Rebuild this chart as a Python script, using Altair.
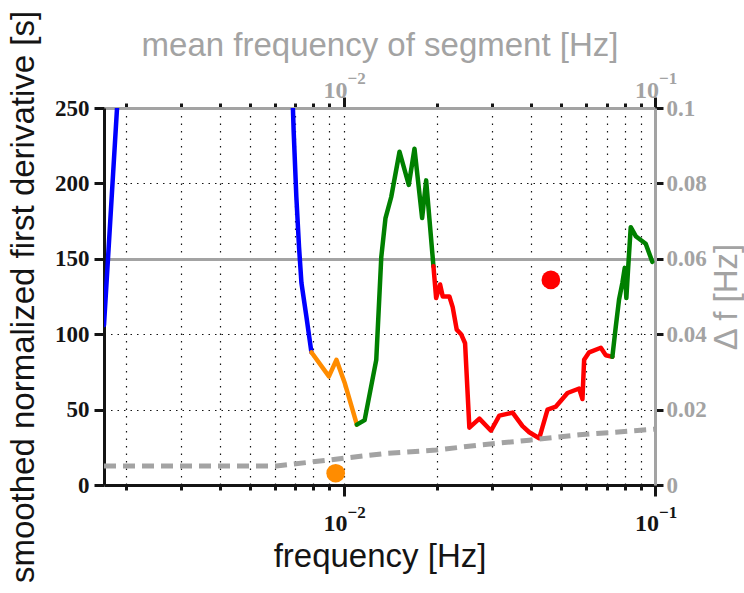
import altair as alt
import pandas as pd

# ---- smoothed normalized first derivative [s] vs frequency [Hz], one array pair per coloured run
blue_a_f = [0.00170, 0.00191]
blue_a_v = [106, 280]
blue_b_f = [0.00680, 0.00691, 0.00705, 0.00719, 0.00732, 0.00759, 0.00788]
blue_b_v = [280, 235, 191, 158, 134, 112, 88]
orange_f = [0.00788, 0.00897, 0.00948, 0.01007, 0.01103]
orange_v = [88, 72, 83, 68, 40]
green_a_f = [0.01103, 0.01168, 0.01273, 0.01321, 0.01363, 0.01422, 0.01512,
             0.01619, 0.01689, 0.01787, 0.01841, 0.01943]
green_a_v = [40, 43, 83, 151, 177, 191, 221, 199, 223, 177, 202, 145]
red_f = [0.01943, 0.01982, 0.02041, 0.02081, 0.02186, 0.02240, 0.02308, 0.02384,
         0.02455, 0.02534, 0.02729, 0.02974, 0.03162, 0.03489, 0.03755, 0.03946,
         0.04248, 0.04517, 0.04806, 0.05236, 0.05707, 0.05848, 0.05921, 0.06145,
         0.06699, 0.06950, 0.07296]
red_v = [145, 124, 133, 125, 125, 118, 103, 100, 94, 38, 44, 36, 46, 48, 39, 35,
         31, 50, 52, 61, 64, 57, 83, 88, 91, 86, 85]
green_b_f = [0.07296, 0.07482, 0.07666, 0.07856, 0.07996, 0.08091, 0.08194,
             0.08358, 0.08672, 0.09337, 0.09802]
green_b_v = [85, 105, 123, 134, 144, 124, 143, 171, 165, 160, 148]

# ---- segment width Δf [Hz] vs mean frequency of segment [Hz]
seg_f = [0.0017, 0.00609, 0.00895, 0.01371, 0.01982, 0.02729, 0.03946, 0.05707, 0.1]
seg_df = [0.00504, 0.00504, 0.00663, 0.0084, 0.00928, 0.0106, 0.0119, 0.0133, 0.0148]

# ---- highlighted points
dot_f = [0.00943, 0.0463]
dot_v = [7.8, 136]
dot_c = ["orange", "red"]

# ---- decade labels
decade_f = [0.01, 0.1]
decade_base = ["10", "10"]
decade_exp = ["\u22122", "\u22121"]

x_ticks = [0.002, 0.003, 0.004, 0.005, 0.006, 0.007, 0.008, 0.009, 0.01,
           0.02, 0.03, 0.04, 0.05, 0.06, 0.07, 0.08, 0.09, 0.1]
left_ticks = [0, 50, 100, 150, 200, 250]
right_ticks = [0, 0.02, 0.04, 0.06, 0.08, 0.1]

runs = [("blue", blue_a_f, blue_a_v), ("blue", blue_b_f, blue_b_v),
        ("orange", orange_f, orange_v), ("green", green_a_f, green_a_v),
        ("red", red_f, red_v), ("green", green_b_f, green_b_v)]
rows = []
for k, (c, fs, vs) in enumerate(runs):
    for i, (f, v) in enumerate(zip(fs, vs)):
        rows.append({"f": f, "v": v, "run": k, "c": c, "i": i})
curve = pd.DataFrame(rows)
segments = pd.DataFrame({"f": seg_f, "d": seg_df})
dots = pd.DataFrame({"f": dot_f, "v": dot_v, "c": dot_c})
decades = pd.DataFrame({"f": decade_f, "base": decade_base, "exp": decade_exp})

GRAY = "#a3a3a3"
INK = "#141414"
SERIF = "Liberation Serif"
SANS = "Liberation Sans"
W, H = 551, 377
MAJOR = "datum.value == 0.01 || datum.value == 0.1"

colour = alt.Scale(domain=["blue", "orange", "green", "red"],
                   range=["#0000ff", "#ff8c00", "#008000", "#ff0000"])

bottom_axis = alt.Axis(
    orient="bottom", values=x_ticks, labels=False,
    domainColor=INK, domainWidth=3,
    tickColor=INK, tickWidth=3,
    tickSize={"condition": {"test": MAJOR, "value": 11}, "value": 5},
    grid=True, gridColor=INK, gridWidth=1.2, gridDash=[1.5, 6],
    title="frequency [Hz]", titleFont=SANS, titleFontSize=33,
    titleFontWeight="normal", titleColor=INK,
    titleX=W / 2, titleY=81, titleBaseline="alphabetic", titleAlign="center")

top_axis = alt.Axis(
    orient="top", values=x_ticks, labels=False,
    domainColor=GRAY, domainWidth=3,
    tickColor=INK, tickWidth=3,
    tickSize={"condition": {"test": MAJOR, "value": 11}, "value": 5},
    grid=False,
    title="mean frequency of segment [Hz]", titleFont=SANS, titleFontSize=33,
    titleFontWeight="normal", titleColor=GRAY,
    titleX=W / 2, titleY=-53, titleBaseline="alphabetic", titleAlign="center")

left_axis = alt.Axis(
    orient="left", values=left_ticks, format="d",
    labelFont=SERIF, labelFontWeight="bold", labelFontSize=23, labelColor=INK,
    labelPadding=5,
    domainColor=INK, domainWidth=3,
    tickColor=INK, tickWidth=3, tickSize=10,
    grid=True,
    gridColor={"condition": {"test": "datum.value == 150", "value": GRAY}, "value": INK},
    gridWidth={"condition": {"test": "datum.value == 150", "value": 3}, "value": 1.2},
    gridDash={"condition": {"test": "datum.value == 150", "value": []}, "value": [1.5, 5]},
    gridOpacity={"condition": {"test": "datum.value == 0 || datum.value == 250", "value": 0}, "value": 1},
    title="smoothed normalized first derivative [s]", titleFont=SANS,
    titleFontSize=33, titleFontWeight="normal", titleColor=INK,
    titleAngle=270, titleX=-71, titleY=H / 2, titleBaseline="alphabetic",
    titleAlign="center")

right_axis = alt.Axis(
    orient="right", values=right_ticks, format=".2~f",
    labelFont=SERIF, labelFontWeight="bold", labelFontSize=23, labelColor=GRAY,
    labelPadding=3,
    domainColor=GRAY, domainWidth=3,
    tickColor=INK, tickWidth=3, tickSize=8,
    grid=False,
    title="\u0394 f [Hz]", titleFont=SANS, titleFontSize=33,
    titleFontWeight="normal", titleColor=GRAY,
    titleAngle=270, titleX=81, titleY=H / 2, titleBaseline="alphabetic",
    titleAlign="center")

x_bottom = alt.X("f:Q", scale=alt.Scale(type="log", domain=[0.0017, 0.1], nice=False),
                 axis=bottom_axis)
x_top = alt.X("f:Q", scale=alt.Scale(type="log", domain=[0.0017, 0.1], nice=False),
              axis=top_axis)
y_left = alt.Y("v:Q", scale=alt.Scale(domain=[0, 250], nice=False, zero=False),
               axis=left_axis)
y_right = alt.Y("d:Q", scale=alt.Scale(domain=[0, 0.1], nice=False, zero=False),
                axis=right_axis)

lines = alt.Chart(curve).mark_line(
    strokeWidth=4.5, clip=True, strokeCap="round", strokeJoin="round"
).encode(
    x=x_bottom, y=y_left,
    color=alt.Color("c:N", scale=colour, legend=None),
    detail="run:N", order="i:Q")

points = alt.Chart(dots).mark_circle(size=350, opacity=1).encode(
    x=x_bottom, y=y_left, color=alt.Color("c:N", scale=colour, legend=None))

text_style = dict(font=SERIF, fontWeight="bold", baseline="alphabetic")
bottom_base = alt.Chart(decades).mark_text(
    fontSize=24, align="center", dx=-8, color=INK, **text_style
).encode(x=x_bottom, y=alt.value(423), text="base:N")
bottom_exp = alt.Chart(decades).mark_text(
    fontSize=17, align="left", dx=4, color=INK, **text_style
).encode(x=x_bottom, y=alt.value(410), text="exp:N")

left_layer = alt.layer(lines, points, bottom_base, bottom_exp)

dashed = alt.Chart(segments).mark_line(
    strokeWidth=5, strokeDash=[12, 7], color=GRAY, clip=True
).encode(x=x_top, y=y_right)
top_base = alt.Chart(decades).mark_text(
    fontSize=24, align="center", dx=-8, color=GRAY, **text_style
).encode(x=x_top, y=alt.value(-10), text="base:N")
top_exp = alt.Chart(decades).mark_text(
    fontSize=17, align="left", dx=4, color=GRAY, **text_style
).encode(x=x_top, y=alt.value(-24), text="exp:N")

right_layer = alt.layer(dashed, top_base, top_exp)

chart = alt.layer(left_layer, right_layer).resolve_scale(
    x="independent", y="independent"
).properties(
    width=W, height=H,
    autosize=alt.AutoSizeParams(type="none"),
    padding={"left": 104, "top": 108, "right": 89, "bottom": 108},
).configure_view(stroke=None)

chart.save("out.html", embed_options={"renderer": "svg", "actions": False})
